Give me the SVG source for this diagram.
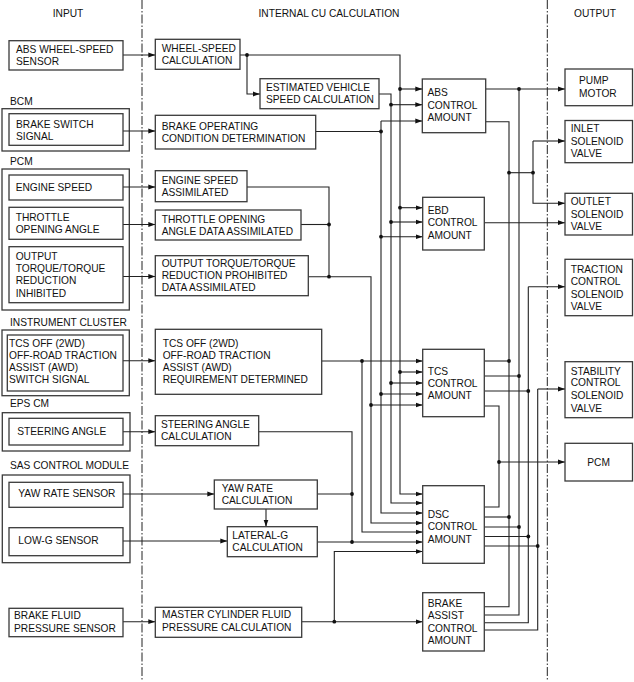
<svg xmlns="http://www.w3.org/2000/svg" width="634" height="682" viewBox="0 0 634 682">
<style>
text{font-family:"Liberation Sans",Arial,sans-serif;font-size:10.2px;fill:#111}
.h{text-anchor:middle}
.b{fill:#fff;stroke:#3a3a3a;stroke-width:1.3}
.o{fill:none;stroke:#3a3a3a;stroke-width:1.3}
.c{fill:none;stroke:#222;stroke-width:1.1}
.a{fill:none;stroke:#222;stroke-width:1.1;marker-end:url(#ar)}
.d{fill:#111}
.dv{stroke:#222;stroke-width:1;stroke-dasharray:9 2 1.5 2}
</style>
<defs>
<marker id="ar" markerUnits="userSpaceOnUse" markerWidth="8" markerHeight="6" refX="7" refY="3" orient="auto">
<path d="M0,0.6 L7,3 L0,5.4 z" fill="#111"/>
</marker>
</defs>
<rect width="634" height="682" fill="#fff"/>
<g id="dividers">
<line class="dv" x1="142" y1="0" x2="142" y2="680"/>
<line class="dv" x1="547.3" y1="0" x2="547.3" y2="680"/>
</g>
<g id="headers">
<text class="h" x="68" y="17">INPUT</text>
<text class="h" x="329" y="17">INTERNAL CU CALCULATION</text>
<text class="h" x="595" y="17">OUTPUT</text>
</g>
<g id="groups">
<text x="10" y="104.7">BCM</text>
<rect class="o" x="2" y="108.7" width="127.3" height="42.3"/>
<text x="10" y="164.7">PCM</text>
<rect class="o" x="2" y="169" width="127.3" height="141"/>
<text x="10" y="326">INSTRUMENT CLUSTER</text>
<rect class="o" x="2" y="330" width="127.3" height="65.7"/>
<text x="10" y="407">EPS CM</text>
<rect class="o" x="2.3" y="412.7" width="127.7" height="38.3"/>
<text x="10" y="469.4">SAS CONTROL MODULE</text>
<rect class="o" x="2.3" y="475" width="127.7" height="87.7"/>
</g>
<g id="connectors">
<!-- inputs -->
<path class="a" d="M123,55 H155.3"/>
<path class="a" d="M123,131 H155.3"/>
<path class="a" d="M123,187 H155.3"/>
<path class="a" d="M123,224.5 H155.3"/>
<path class="a" d="M123,276.5 H155.3"/>
<path class="a" d="M123,360.7 H155.3"/>
<path class="a" d="M123,431.7 H155.3"/>
<path class="a" d="M123,494 H214.3"/>
<path class="a" d="M123,541 H227.3"/>
<path class="a" d="M123,621.7 H155.3"/>
<path class="a" d="M266,509 V526.7"/>
<!-- wheel speed -->
<path class="a" d="M240,55 H400 V494 H422.7"/>
<path class="a" d="M247,55 V94 H260"/>
<path class="a" d="M400,89 H422.3"/>
<path class="a" d="M400,207.7 H422.7"/>
<path class="a" d="M400,372 H422.7"/>
<!-- estimated vehicle speed -->
<path class="a" d="M379,94 H391 V503 H422.7"/>
<path class="a" d="M391,104.7 H422.3"/>
<path class="a" d="M391,222 H422.7"/>
<path class="a" d="M391,383 H422.7"/>
<!-- brake operating -->
<path class="c" d="M315.7,131.5 H381"/>
<path class="a" d="M381,121 H422.3"/>
<path class="a" d="M381,121 V513 H422.7"/>
<path class="a" d="M381,236.7 H422.7"/>
<path class="a" d="M381,394 H422.7"/>
<!-- engine / throttle / torque -->
<path class="c" d="M247,187 H329 V276.7"/>
<path class="c" d="M301,224.5 H329"/>
<path class="a" d="M308.3,276.7 H371 V523 H422.7"/>
<path class="a" d="M371,405 H422.7"/>
<!-- TCS off -->
<path class="a" d="M321.7,361 H422.7"/>
<path class="a" d="M362,361 V532 H422.7"/>
<!-- steering / yaw / lateral -->
<path class="c" d="M258.7,431.7 H352 V542"/>
<path class="c" d="M317.3,494 H352"/>
<path class="a" d="M317.3,542 H422.7"/>
<!-- master cylinder -->
<path class="a" d="M301.7,621.7 H422.7"/>
<path class="a" d="M334.3,621.7 V551.5 H422.7"/>
<!-- outputs -->
<path class="a" d="M485.7,89 H565"/>
<path class="c" d="M485.7,121.7 H509 V606.7 H484.3"/>
<path class="c" d="M509,172.7 H533"/>
<path class="a" d="M533,141 H565"/>
<path class="a" d="M533,141 V203.3 H565"/>
<path class="a" d="M484.3,222.7 H565"/>
<path class="c" d="M519,89 V615 H484.3"/>
<path class="a" d="M528.3,286.7 H565"/>
<path class="c" d="M528.3,286.7 V622.7 H484.3"/>
<path class="a" d="M537.7,389 H565"/>
<path class="c" d="M537.7,389 V630 H484.3"/>
<path class="c" d="M484.3,406 H499 V507 H484.3"/>
<path class="a" d="M499,462 H565"/>
<path class="c" d="M484.3,361 H509"/>
<path class="c" d="M484.3,376 H519"/>
<path class="c" d="M484.3,391 H528.3"/>
<path class="c" d="M484.3,517 H509"/>
<path class="c" d="M484.3,527 H519"/>
<path class="c" d="M484.3,536.5 H528.3"/>
<path class="c" d="M484.3,546 H537.7"/>
<!-- junction dots -->
<circle class="d" cx="247" cy="55" r="1.9"/>
<circle class="d" cx="400" cy="89" r="1.9"/>
<circle class="d" cx="400" cy="207.7" r="1.9"/>
<circle class="d" cx="400" cy="372" r="1.9"/>
<circle class="d" cx="391" cy="104.7" r="1.9"/>
<circle class="d" cx="391" cy="222" r="1.9"/>
<circle class="d" cx="391" cy="383" r="1.9"/>
<circle class="d" cx="381" cy="131.5" r="1.9"/>
<circle class="d" cx="381" cy="236.7" r="1.9"/>
<circle class="d" cx="381" cy="394" r="1.9"/>
<circle class="d" cx="329" cy="224.5" r="1.9"/>
<circle class="d" cx="329" cy="276.7" r="1.9"/>
<circle class="d" cx="371" cy="405" r="1.9"/>
<circle class="d" cx="362" cy="361" r="1.9"/>
<circle class="d" cx="352" cy="494" r="1.9"/>
<circle class="d" cx="352" cy="542" r="1.9"/>
<circle class="d" cx="334.3" cy="621.7" r="1.9"/>
<circle class="d" cx="519" cy="89" r="1.9"/>
<circle class="d" cx="509" cy="172.7" r="1.9"/>
<circle class="d" cx="533" cy="172.7" r="1.9"/>
<circle class="d" cx="509" cy="361" r="1.9"/>
<circle class="d" cx="519" cy="376" r="1.9"/>
<circle class="d" cx="528.3" cy="391" r="1.9"/>
<circle class="d" cx="499" cy="462" r="1.9"/>
<circle class="d" cx="509" cy="517" r="1.9"/>
<circle class="d" cx="519" cy="527" r="1.9"/>
<circle class="d" cx="528.3" cy="536.5" r="1.9"/>
<circle class="d" cx="537.7" cy="546" r="1.9"/>
</g>
<g id="n-abs-sensor"><rect class="b" x="9" y="40.7" width="114" height="29.3"/><text x="16" y="52.7">ABS WHEEL-SPEED</text><text x="16" y="64.7">SENSOR</text></g>
<g id="n-brake-switch"><rect class="b" x="9" y="113.7" width="114" height="31.6"/><text x="16" y="127.7">BRAKE SWITCH</text><text x="16" y="139.7">SIGNAL</text></g>
<g id="n-engine-speed"><rect class="b" x="9" y="175" width="114" height="25"/><text x="15.7" y="191">ENGINE SPEED</text></g>
<g id="n-throttle"><rect class="b" x="9" y="207.3" width="114" height="32"/><text x="15.7" y="221">THROTTLE</text><text x="15.7" y="233">OPENING ANGLE</text></g>
<g id="n-output-torque"><rect class="b" x="9" y="246.7" width="114" height="56"/><text x="15.7" y="259.7">OUTPUT</text><text x="15.7" y="272">TORQUE/TORQUE</text><text x="15.7" y="284.3">REDUCTION</text><text x="15.7" y="296.6">INHIBITED</text></g>
<g id="n-tcs-switch"><rect class="b" x="7.3" y="335" width="115.7" height="56"/><text x="9" y="347">TCS OFF (2WD)</text><text x="9" y="359">OFF-ROAD TRACTION</text><text x="9" y="371">ASSIST (AWD)</text><text x="9" y="383">SWITCH SIGNAL</text></g>
<g id="n-steering-angle"><rect class="b" x="9" y="418.3" width="114" height="26.7"/><text x="17.3" y="435.3">STEERING ANGLE</text></g>
<g id="n-yaw-sensor"><rect class="b" x="9" y="482.3" width="114" height="25"/><text x="18.3" y="497">YAW RATE SENSOR</text></g>
<g id="n-lowg-sensor"><rect class="b" x="9" y="527.7" width="114" height="28"/><text x="18.3" y="544.4">LOW-G SENSOR</text></g>
<g id="n-brake-fluid"><rect class="b" x="9" y="608.3" width="114" height="28.4"/><text x="14" y="618.7">BRAKE FLUID</text><text x="14" y="632">PRESSURE SENSOR</text></g>
<g id="n-wheel-speed-calc"><rect class="b" x="155.3" y="39.3" width="84.7" height="30"/><text x="161.7" y="52.4">WHEEL-SPEED</text><text x="161.7" y="64.4">CALCULATION</text></g>
<g id="n-est-vehicle"><rect class="b" x="260" y="78.7" width="119" height="30"/><text x="266" y="91">ESTIMATED VEHICLE</text><text x="266" y="103">SPEED CALCULATION</text></g>
<g id="n-brake-op"><rect class="b" x="155.3" y="115.3" width="160.4" height="33.7"/><text x="161.7" y="130">BRAKE OPERATING</text><text x="161.7" y="141.7">CONDITION DETERMINATION</text></g>
<g id="n-engine-assim"><rect class="b" x="155.3" y="170.7" width="91.7" height="31"/><text x="161.7" y="183.7">ENGINE SPEED</text><text x="161.7" y="195.7">ASSIMILATED</text></g>
<g id="n-throttle-assim"><rect class="b" x="155.3" y="210" width="145.7" height="30"/><text x="161.7" y="222.7">THROTTLE OPENING</text><text x="161.7" y="234.7">ANGLE DATA ASSIMILATED</text></g>
<g id="n-torque-assim"><rect class="b" x="155.3" y="255.7" width="153" height="40"/><text x="161.7" y="267">OUTPUT TORQUE/TORQUE</text><text x="161.7" y="279.4">REDUCTION PROHIBITED</text><text x="161.7" y="291">DATA ASSIMILATED</text></g>
<g id="n-tcs-req"><rect class="b" x="155.3" y="329.3" width="166.4" height="65"/><text x="162.7" y="347">TCS OFF (2WD)</text><text x="162.7" y="359">OFF-ROAD TRACTION</text><text x="162.7" y="371">ASSIST (AWD)</text><text x="162.7" y="383">REQUIREMENT DETERMINED</text></g>
<g id="n-steering-calc"><rect class="b" x="155.3" y="415.7" width="103.4" height="30"/><text x="161" y="427.7">STEERING ANGLE</text><text x="161" y="440">CALCULATION</text></g>
<g id="n-yaw-calc"><rect class="b" x="214.3" y="480" width="103" height="29"/><text x="221.7" y="492">YAW RATE</text><text x="221.7" y="504.4">CALCULATION</text></g>
<g id="n-lateral-calc"><rect class="b" x="227.3" y="526.7" width="90" height="30"/><text x="232.3" y="539.4">LATERAL-G</text><text x="232.3" y="551.4">CALCULATION</text></g>
<g id="n-master-cyl"><rect class="b" x="155.3" y="607.3" width="146.4" height="30"/><text x="162" y="618.4">MASTER CYLINDER FLUID</text><text x="162" y="631">PRESSURE CALCULATION</text></g>
<g id="n-abs-ctrl"><rect class="b" x="422.3" y="79" width="63.4" height="53.7"/><text x="427.5" y="96.4">ABS</text><text x="427.5" y="108.7">CONTROL</text><text x="427.5" y="121">AMOUNT</text></g>
<g id="n-ebd-ctrl"><rect class="b" x="422.7" y="197.3" width="61.6" height="52.7"/><text x="427.7" y="214">EBD</text><text x="427.7" y="226.4">CONTROL</text><text x="427.7" y="239">AMOUNT</text></g>
<g id="n-tcs-ctrl"><rect class="b" x="422.7" y="349.3" width="61.6" height="67.4"/><text x="427.7" y="375">TCS</text><text x="427.7" y="386.7">CONTROL</text><text x="427.7" y="399.4">AMOUNT</text></g>
<g id="n-dsc-ctrl"><rect class="b" x="422.7" y="485.7" width="61.6" height="77.6"/><text x="427.7" y="518">DSC</text><text x="427.7" y="530.4">CONTROL</text><text x="427.7" y="542.7">AMOUNT</text></g>
<g id="n-ba-ctrl"><rect class="b" x="422.7" y="592.7" width="61.6" height="58.3"/><text x="427.7" y="607">BRAKE</text><text x="427.7" y="619">ASSIST</text><text x="427.7" y="632">CONTROL</text><text x="427.7" y="644.4">AMOUNT</text></g>
<g id="n-pump"><rect class="b" x="565" y="69" width="67.5" height="36.7"/><text x="579" y="84.4">PUMP</text><text x="579" y="97">MOTOR</text></g>
<g id="n-inlet"><rect class="b" x="565" y="120.5" width="67.5" height="42.2"/><text x="570.7" y="132.4">INLET</text><text x="570.7" y="145">SOLENOID</text><text x="570.7" y="157">VALVE</text></g>
<g id="n-outlet"><rect class="b" x="565" y="193.3" width="67.5" height="41.7"/><text x="570.7" y="205.4">OUTLET</text><text x="570.7" y="217.7">SOLENOID</text><text x="570.7" y="230">VALVE</text></g>
<g id="n-traction"><rect class="b" x="565" y="259.3" width="67.5" height="56.4"/><text x="570.7" y="273">TRACTION</text><text x="570.7" y="285.4">CONTROL</text><text x="570.7" y="297.7">SOLENOID</text><text x="570.7" y="310.4">VALVE</text></g>
<g id="n-stability"><rect class="b" x="565" y="361.7" width="67.5" height="56"/><text x="570.7" y="374.7">STABILITY</text><text x="570.7" y="386.4">CONTROL</text><text x="570.7" y="399.4">SOLENOID</text><text x="570.7" y="411.7">VALVE</text></g>
<g id="n-pcm-out"><rect class="b" x="565" y="443.3" width="67.5" height="37.7"/><text x="587.3" y="466">PCM</text></g>
</svg>
